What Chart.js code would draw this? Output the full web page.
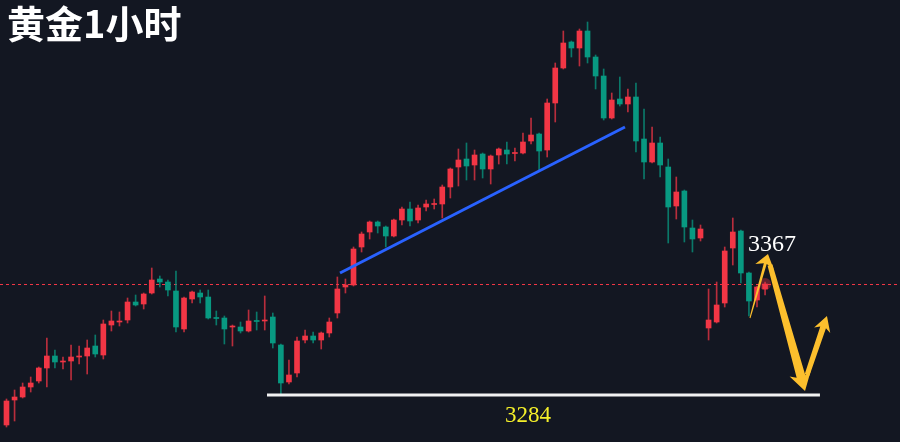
<!DOCTYPE html>
<html>
<head>
<meta charset="utf-8">
<script src="https://cdn.jsdelivr.net/npm/chart.js@4.4.1/dist/chart.umd.min.js"></script>
<style>
  html, body { margin: 0; padding: 0; background: #131722; }
  #grafica { display: block; }
</style>
</head>
<body>
<canvas id="grafica" width="900" height="442"></canvas>
<script>
// velas de 1 hora (rojo = sube, verde = baja)
const aperturas = [3266.0, 3281.0, 3282.8, 3288.8, 3292.4, 3300.2, 3307.4, 3303.8, 3304.4, 3306.8,
  3307.4, 3313.4, 3308.0, 3326.0, 3327.8, 3329.0, 3339.8, 3338.6, 3345.2, 3353.6,
  3351.8, 3346.4, 3323.6, 3341.6, 3345.2, 3342.8, 3330.5, 3330.2, 3324.8, 3324.8,
  3322.4, 3328.7, 3328.4, 3330.8, 3314.0, 3291.8, 3297.2, 3317.0, 3319.4, 3317.0,
  3321.2, 3333.2, 3348.8, 3350.0, 3372.8, 3381.8, 3387.8, 3384.8, 3379.4, 3389.0,
  3395.6, 3389.0, 3396.8, 3398.3, 3398.6, 3408.8, 3420.8, 3425.6, 3422.0, 3428.6,
  3419.6, 3428.0, 3431.0, 3428.9, 3429.2, 3436.4, 3440.6, 3431.0, 3459.2, 3480.2,
  3495.8, 3492.2, 3502.4, 3486.8, 3475.4, 3450.2, 3461.6, 3458.6, 3462.8, 3437.6,
  3423.8, 3435.2, 3420.8, 3397.4, 3406.4, 3384.2, 3378.2, 3324.2, 3327.8, 3339.2,
  3372.2, 3382.4, 3357.2, 3341.0, 3347.6];
const maximos = [3281.6, 3287.0, 3291.2, 3294.8, 3300.8, 3318.2, 3311.0, 3306.8, 3314.0, 3313.4,
  3317.0, 3320.0, 3329.0, 3334.4, 3333.8, 3342.2, 3344.0, 3345.2, 3360.2, 3355.4,
  3353.0, 3358.4, 3342.8, 3346.4, 3347.0, 3347.0, 3334.4, 3331.4, 3326.0, 3327.8,
  3335.0, 3333.8, 3343.4, 3333.2, 3314.6, 3305.0, 3318.8, 3323.0, 3321.8, 3321.8,
  3330.2, 3354.8, 3353.6, 3372.8, 3381.8, 3388.4, 3388.4, 3385.4, 3389.6, 3396.8,
  3399.8, 3398.0, 3401.0, 3401.6, 3410.0, 3420.2, 3431.6, 3435.2, 3431.0, 3429.2,
  3428.0, 3432.2, 3435.8, 3432.2, 3441.2, 3450.2, 3441.2, 3461.6, 3483.2, 3502.4,
  3496.4, 3503.6, 3507.8, 3488.0, 3479.6, 3465.2, 3474.8, 3467.6, 3471.2, 3455.6,
  3444.8, 3438.8, 3425.6, 3414.8, 3407.0, 3389.0, 3386.0, 3347.6, 3351.8, 3372.8,
  3390.2, 3383.0, 3357.8, 3349.4, 3351.8];
const minimos = [3264.8, 3268.4, 3282.2, 3285.8, 3291.2, 3288.8, 3300.2, 3299.6, 3293.0, 3302.6,
  3296.6, 3306.8, 3305.6, 3322.4, 3325.4, 3327.2, 3337.4, 3335.6, 3344.6, 3348.8,
  3343.4, 3321.8, 3321.8, 3339.2, 3339.2, 3329.6, 3326.0, 3314.6, 3313.4, 3321.2,
  3321.8, 3323.0, 3323.0, 3312.2, 3284.6, 3290.6, 3294.8, 3315.2, 3315.2, 3311.6,
  3318.8, 3330.2, 3345.2, 3349.4, 3369.8, 3377.6, 3381.2, 3372.8, 3378.8, 3386.0,
  3385.4, 3387.2, 3394.4, 3395.6, 3390.2, 3402.2, 3409.4, 3413.0, 3413.0, 3414.2,
  3410.6, 3422.6, 3422.6, 3424.4, 3428.6, 3434.6, 3418.4, 3426.8, 3447.8, 3479.6,
  3486.8, 3481.4, 3483.2, 3467.6, 3449.0, 3449.6, 3457.4, 3453.8, 3429.8, 3413.6,
  3423.2, 3414.8, 3375.2, 3389.6, 3375.8, 3369.8, 3376.4, 3317.0, 3327.2, 3336.8,
  3362.0, 3351.2, 3331.4, 3336.8, 3344.0];
const cierres = [3280.4, 3282.8, 3288.8, 3291.2, 3300.2, 3307.4, 3303.8, 3304.4, 3306.8, 3307.4,
  3312.2, 3308.6, 3326.6, 3328.4, 3328.4, 3339.8, 3338.0, 3344.6, 3353.0, 3351.8,
  3347.0, 3324.8, 3342.2, 3345.8, 3342.8, 3330.2, 3329.9, 3323.6, 3325.4, 3322.4,
  3328.4, 3328.1, 3329.0, 3315.2, 3291.2, 3296.0, 3316.4, 3319.4, 3317.0, 3321.2,
  3327.8, 3347.6, 3350.0, 3371.6, 3380.6, 3387.8, 3385.4, 3379.4, 3389.0, 3395.6,
  3388.4, 3396.2, 3398.6, 3398.6, 3408.8, 3419.6, 3425.0, 3421.4, 3428.0, 3419.6,
  3427.4, 3431.6, 3428.6, 3429.2, 3435.8, 3440.0, 3430.4, 3459.2, 3480.2, 3495.2,
  3492.2, 3502.4, 3486.8, 3475.4, 3450.2, 3461.0, 3458.6, 3462.8, 3436.4, 3423.8,
  3435.2, 3422.0, 3396.8, 3405.8, 3384.8, 3377.6, 3383.6, 3329.0, 3338.0, 3370.4,
  3381.8, 3357.2, 3340.4, 3348.8, 3350.6];

const titulo = '黄金1小时';
const precioActual = 3350.3;
const soporte = 3284;
const objetivo = 3367;
// linea de tendencia: [vela, precio]
const tendencia = [[42.33, 3357.2], [77.64, 3444.8]];
const soporteDesde = 33.28;
const soporteHasta = 101.8;
// flechas amarillas: desde / hasta en [vela, precio]
const flechas = [
  { desde: [93.13, 3330.2], hasta: [95.36, 3368.6], w0: 1, w1: 3, largo: 13, ancho: 19 },
  { desde: [95.61, 3362.0], hasta: [99.95, 3286.4], w0: 5, w1: 9, largo: 18, ancho: 22 },
  { desde: [100.2, 3296.0], hasta: [102.67, 3331.4], w0: 5, w1: 6, largo: 15, ancho: 17 }
];

const xMin = 0.195, xMax = 111.72;
const yMin = 3255.8, yMax = 3521.0;

const ROJO = '#f23645';
const VERDE = '#089981';
const AMARILLO = '#fcbf2d';

const velas = aperturas.map((_, k) => k + 1);
const colores = aperturas.map((a, k) => cierres[k] >= a ? ROJO : VERDE);
const coloresMecha = aperturas.map((a, k) => cierres[k] >= a ? 'rgba(242,54,69,0.75)' : 'rgba(8,153,129,0.75)');

const fondo = {
  id: 'fondo',
  beforeDraw(chart) {
    const ctx = chart.ctx;
    ctx.save();
    ctx.fillStyle = '#131722';
    ctx.fillRect(0, 0, chart.width, chart.height);
    ctx.restore();
  }
};

function dibujarFlecha(ctx, x0, y0, x1, y1, f) {
  const ang = Math.atan2(y1 - y0, x1 - x0);
  const len = Math.hypot(x1 - x0, y1 - y0);
  const L = len - f.largo;
  ctx.save();
  ctx.translate(x0, y0);
  ctx.rotate(ang);
  ctx.beginPath();
  ctx.moveTo(0, -f.w0 / 2);
  ctx.lineTo(L + 3, -f.w1 / 2);
  ctx.lineTo(L, -f.ancho / 2);
  ctx.lineTo(len, 0);
  ctx.lineTo(L, f.ancho / 2);
  ctx.lineTo(L + 3, f.w1 / 2);
  ctx.lineTo(0, f.w0 / 2);
  ctx.closePath();
  ctx.fill();
  ctx.restore();
}

const anotaciones = {
  id: 'anotaciones',
  afterDatasetsDraw(chart) {
    const ctx = chart.ctx;
    const x = chart.scales.x, y = chart.scales.y;
    ctx.save();
    ctx.fillStyle = AMARILLO;
    flechas.forEach(f => {
      dibujarFlecha(ctx, x.getPixelForValue(f.desde[0]), y.getPixelForValue(f.desde[1]),
        x.getPixelForValue(f.hasta[0]), y.getPixelForValue(f.hasta[1]), f);
    });

    ctx.fillStyle = '#ffffff';
    ctx.font = '24px "Liberation Serif"';
    ctx.textAlign = 'left';
    ctx.textBaseline = 'alphabetic';
    ctx.fillText(String(objetivo), x.getPixelForValue(92.88), y.getPixelForValue(3370.4));

    ctx.fillStyle = '#f4ef2a';
    ctx.font = '23px "Liberation Serif"';
    ctx.textAlign = 'center';
    ctx.fillText(String(soporte), x.getPixelForValue(65.62), y.getPixelForValue(3267.8));

    ctx.fillStyle = '#ffffff';
    ctx.font = 'bold 38px "Noto Sans CJK SC"';
    ctx.textAlign = 'left';
    ctx.textBaseline = 'top';
    ctx.fillText(titulo, 7, 5);
    ctx.restore();
  }
};

new Chart(document.getElementById('grafica'), {
  type: 'bar',
  data: {
    datasets: [
      {
        type: 'line',
        label: 'precio',
        data: [{ x: xMin, y: precioActual }, { x: xMax, y: precioActual }],
        borderColor: ROJO,
        borderWidth: 1,
        borderDash: [3, 3],
        pointRadius: 0,
        order: 3
      },
      {
        label: 'mechas',
        data: velas.map((v, k) => ({ x: v, y: [minimos[k], maximos[k]] })),
        backgroundColor: coloresMecha,
        barThickness: 1,
        grouped: false,
        order: 2
      },
      {
        label: 'cuerpos',
        data: velas.map((v, k) => ({ x: v, y: [aperturas[k], cierres[k]] })),
        backgroundColor: colores,
        barThickness: 5,
        minBarLength: 1,
        grouped: false,
        order: 1
      },
      {
        type: 'line',
        label: 'tendencia',
        data: tendencia.map(p => ({ x: p[0], y: p[1] })),
        borderColor: '#2962ff',
        borderWidth: 3,
        pointRadius: 0,
        order: 0
      },
      {
        type: 'line',
        label: 'soporte',
        data: [{ x: soporteDesde, y: soporte }, { x: soporteHasta, y: soporte }],
        borderColor: '#f2f2f2',
        borderWidth: 3,
        pointRadius: 0,
        order: 0
      },
      {
        type: 'line',
        label: 'ultimo',
        data: [{ x: velas[velas.length - 1], y: cierres[cierres.length - 1] }],
        backgroundColor: 'rgba(242,54,69,0.35)',
        borderColor: 'rgba(242,54,69,0)',
        pointRadius: 6,
        order: 0
      }
    ]
  },
  options: {
    responsive: false,
    animation: false,
    events: [],
    layout: { padding: 0, autoPadding: false },
    plugins: { legend: { display: false }, tooltip: { enabled: false } },
    scales: {
      x: { type: 'linear', min: xMin, max: xMax, display: false, offset: false },
      y: { min: yMin, max: yMax, display: false }
    }
  },
  plugins: [fondo, anotaciones]
});
</script>
</body>
</html>
